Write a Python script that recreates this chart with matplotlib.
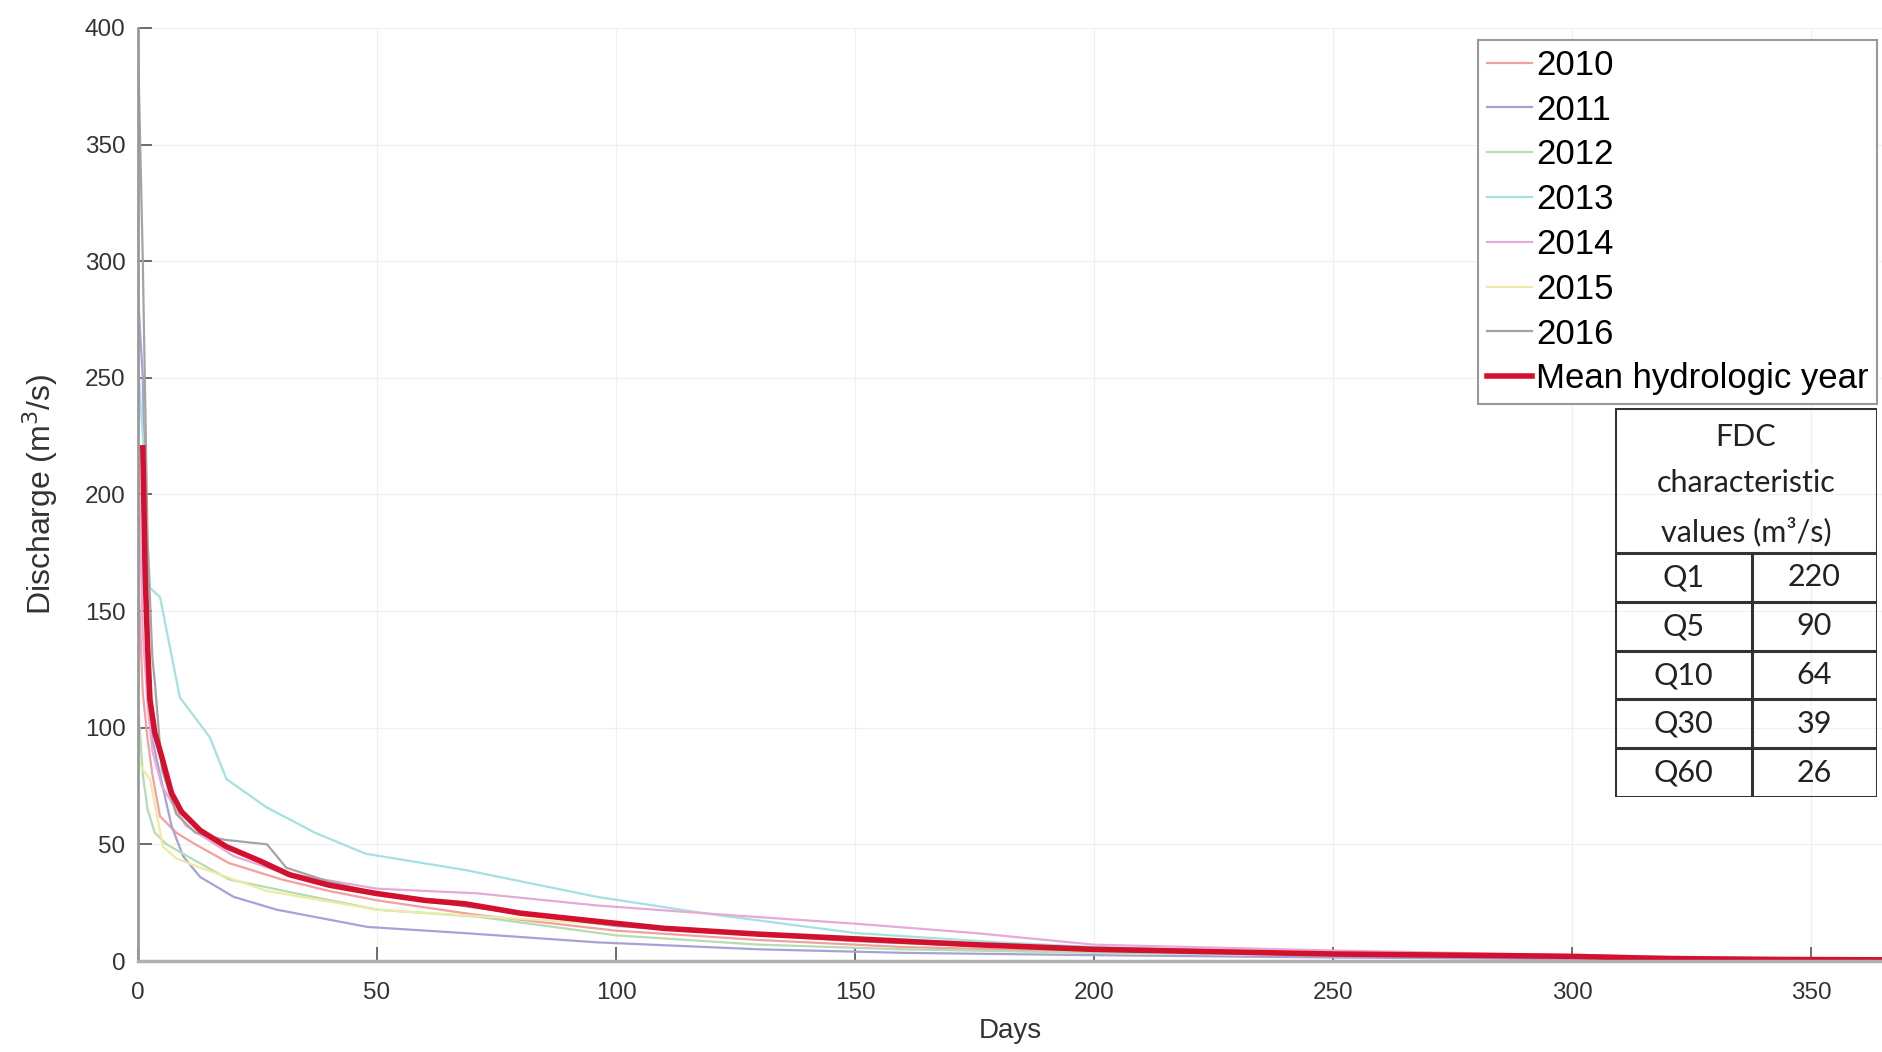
import numpy as np
import matplotlib.pyplot as plt
from matplotlib.patches import Rectangle

plt.rcParams['font.family'] = ['Liberation Sans', 'DejaVu Sans']

# flow duration curves (sorted daily discharge)
d2010 = [0, 0.5, 1, 2, 3, 4.6, 8, 12, 19, 30, 40, 50, 70, 100, 130, 160, 200, 250, 300, 340, 365]
q2010 = [170, 140, 115, 95, 80, 62, 55, 50, 42, 35, 30, 26, 20, 13, 9, 6, 4, 2.5, 1.5, 0.8, 0.4]

d2011 = [0, 1, 2, 3, 4.6, 7, 9.4, 13, 20, 29, 48, 68, 96, 130, 160, 200, 250, 300, 365]
q2011 = [285, 250, 140, 95, 80, 58, 45, 36, 27.5, 22, 14.6, 12, 8, 5, 3.5, 2.5, 1.5, 0.8, 0.3]

d2012 = [0, 0.5, 1, 2, 3.5, 6, 12, 19, 33, 50, 71, 100, 130, 160, 200, 250, 300, 365]
q2012 = [110, 95, 80, 65, 55, 50, 43, 35, 29, 22, 19, 11, 7, 5, 3.5, 2.5, 1.5, 0.5]

d2013 = [0, 0.5, 1, 2, 2.5, 4.6, 8.75, 15, 18.5, 26.8, 37, 47.6, 68.5, 96, 120, 150, 180, 200, 250, 300, 365]
q2013 = [258, 240, 225, 180, 160, 156, 113, 96, 78, 66, 55, 46, 39, 27.5, 20, 12, 8, 6, 3.5, 2, 0.5]

d2014 = [0, 0.5, 1, 2, 3, 5, 10, 20, 30, 50, 71, 96, 125, 150, 175, 200, 250, 300, 365]
q2014 = [232, 180, 140, 110, 90, 75, 58, 45, 38, 31, 29, 23.8, 19.5, 16, 12, 7, 4.5, 2.5, 0.6]

d2015 = [0, 0.5, 1, 2.5, 5.2, 8, 13, 27, 50, 96, 130, 160, 200, 250, 300, 365]
q2015 = [88, 84, 82, 78, 49, 44, 40, 30, 22, 16, 11, 7.5, 5, 3, 1.5, 0.4]

d2016 = [0, 1, 2, 3, 3.5, 5, 8, 12, 18, 27, 31, 40, 50, 70, 100, 150, 200, 250, 300, 365]
q2016 = [392, 300, 180, 130, 120, 82, 63, 55, 52, 50, 40, 34, 29, 23, 15, 8.5, 4.5, 2.8, 1.8, 0.4]

d_mean = [1, 1.5, 2, 2.5, 3.5, 4.9, 7, 9.1, 13, 18.5, 25.4, 31.7, 40, 49.7, 60, 68.5, 80, 96,
          110, 130, 150, 175, 200, 225, 250, 275, 300, 320, 340, 365]
q_mean = [220, 165, 135, 112, 98, 88, 72, 64, 56, 49, 43, 37, 32.5, 29, 26, 24.5, 20.5, 17,
          14, 11.5, 9.5, 7, 5, 4, 3, 2.5, 2, 1, 0.7, 0.5]

years = ['2010', '2011', '2012', '2013', '2014', '2015', '2016']
year_days = [d2010, d2011, d2012, d2013, d2014, d2015, d2016]
year_flows = [q2010, q2011, q2012, q2013, q2014, q2015, q2016]
year_colors = ['#f2a0a0', '#a6a2d6', '#b4ddb0', '#a2e2e0', '#e6aad6', '#eeeaa6', '#a4a4a4']

# FDC table
fdc_names = ['Q1', 'Q5', 'Q10', 'Q30', 'Q60']
fdc_values = ['220', '90', '64', '39', '26']

fig = plt.figure(figsize=(18.83, 10.52), dpi=100)
ax = fig.add_axes([0.0733, 0.0865, 0.9267, 0.8869])

for name, d, q, c in zip(years, year_days, year_flows, year_colors):
    ax.plot(d, q, color=c, lw=1.6, label=name)
ax.plot(d_mean, q_mean, color='#d3102e', lw=4, label='Mean hydrologic year')

ax.set_xlim(0, 365)
ax.set_ylim(0, 400)
ax.set_xticks(np.arange(0, 351, 50))
ax.set_yticks(np.arange(0, 401, 50))
ax.grid(True, color='#f0f0f0', lw=0.9)
ax.set_axisbelow(True)

for s in ['top', 'right']:
    ax.spines[s].set_visible(False)
ax.spines['left'].set_color('#9a9a9a')
ax.spines['left'].set_linewidth(2)
ax.spines['bottom'].set_color('#b0b0b0')
ax.spines['bottom'].set_linewidth(2.5)
ax.tick_params(direction='in', length=10, width=1.2, color='#555555',
               labelsize=17.5, labelcolor='#333333')
ax.tick_params(axis='x', pad=15)
ax.tick_params(axis='y', pad=9)

ax.set_xlabel('Days', fontsize=20, color='#333333', labelpad=10)
ax.set_ylabel('Discharge (m$^3$/s)', fontsize=23, color='#333333', labelpad=18)

leg = ax.legend(loc='upper right', bbox_to_anchor=(0.9966, 0.987), borderaxespad=0,
                fontsize=25, labelspacing=0.34, handlelength=1.3, handletextpad=0.1,
                borderpad=0.25, fancybox=False, framealpha=1, edgecolor='#999999')
leg.get_frame().set_linewidth(1.5)

# table drawn in its own axes
tx = fig.add_axes([0.8577, 0.2424, 0.1391, 0.3698])
tx.set_xlim(0, 1)
tx.set_ylim(0, 1)
tx.axis('off')
tfont = ['Lato', 'DejaVu Sans']
tx.add_patch(Rectangle((0, 0), 1, 1, fill=False, lw=2.2, ec='#333333'))
head = 0.627
row_h = head / len(fdc_names)
tx.plot([0, 1], [head, head], color='#333333', lw=2.2)
for i in range(1, len(fdc_names)):
    tx.plot([0, 1], [head - i * row_h] * 2, color='#333333', lw=2.2)
tx.plot([0.523, 0.523], [0, head], color='#333333', lw=2.2)
for txt, yy in zip(['FDC', 'characteristic', 'values (m³/s)'], [0.925, 0.807, 0.681]):
    tx.text(0.5, yy, txt, ha='center', va='center', fontsize=22, family=tfont, color='#222222')
for i, (n, v) in enumerate(zip(fdc_names, fdc_values)):
    yy = head - (i + 0.5) * row_h
    tx.text(0.26, yy, n, ha='center', va='center', fontsize=22, family=tfont, color='#222222')
    tx.text(0.76, yy, v, ha='center', va='center', fontsize=22, family=tfont, color='#222222')

fig.savefig('out.png', dpi=100)
